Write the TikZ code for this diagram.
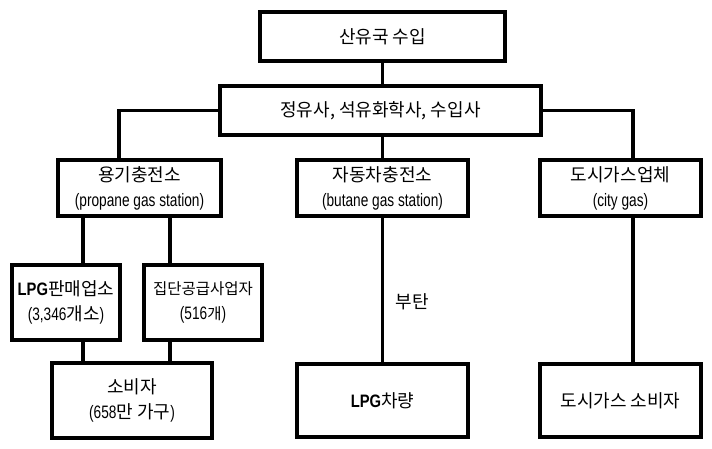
\documentclass[tikz,border=0pt]{standalone}
\usepackage{fontspec}
\setmainfont{Noto Sans CJK KR}
\newfontfamily\lat{Liberation Sans}[FakeStretch=0.76]
\newfontfamily\latb{Liberation Sans Bold}[FakeStretch=0.82]
\usetikzlibrary{positioning}

\begin{document}
\begin{tikzpicture}[x=1pt,y=-1pt]
\tikzstyle{box} = [draw, line width=3.5pt, align=center, inner sep=0pt, font=\fontsize{18}{25}\selectfont]
\tikzstyle{line} = [line width=3.5pt]
\useasboundingbox (0,0) rectangle (712,449);

%Import and the companies that take it in
 \node[box, minimum width=245pt, minimum height=49pt] (import) at (382.5,36.5) {산유국 수입};
 \node[box, minimum width=321pt, minimum height=49pt] (refine) at (380.5,110.5) {정유사, 석유화학사, 수입사};

%Three kinds of station:
 \node[box, minimum width=163pt, minimum height=56pt] (propane) at (139.5,188) {용기충전소\\{\lat (propane gas station)}};
 \node[box, minimum width=171pt, minimum height=56pt] (butane) at (382.5,188) {자동차충전소\\{\lat (butane gas station)}};
 \node[box, minimum width=161pt, minimum height=56pt] (citygas) at (620.5,188) {도시가스업체\\{\lat (city gas)}};

%Sellers below the propane station
 \node[box, minimum width=108pt, minimum height=75pt] (seller) at (66,302.5) {{\latb LPG}판매업소\\{\lat (3,346}개소{\lat )}};
 \node[box, minimum width=118pt, minimum height=75pt, font=\fontsize{15.5}{25}\selectfont] (supplier) at (203,302.5) {집단공급사업자\\{\lat\fontsize{18}{25}\selectfont (516}개{\lat\fontsize{18}{25}\selectfont )}};

%End users
 \node[box, minimum width=160pt, minimum height=75pt] (consumer) at (132,400.5) {소비자\\{\lat (658}만 가구{\lat )}};
 \node[box, minimum width=171pt, minimum height=73pt] (vehicle) at (382.5,400.5) {{\latb LPG}차량};
 \node[box, minimum width=161pt, minimum height=73pt] (cityuser) at (620.5,400.5) {도시가스 소비자};

%x positions of the branch lines
 \coordinate (xl) at (119,0);
 \coordinate (xr) at (633,0);
 \coordinate (xa) at (83,0);
 \coordinate (xb) at (170,0);

%Connecting the boxes:
 \draw[line] (import.south) -- (import.south |- refine.north);
 \draw[line] (refine.west) -| (propane.north -| xl);
 \draw[line] (refine.east) -| (citygas.north -| xr);
 \draw[line] (refine.south -| butane) -- (butane.north);
 \draw[line] (butane.south) -- (vehicle.north) node (gaslabel) [pos=0.58, right=8pt, font=\fontsize{18}{20}\selectfont] {부탄};
 \draw[line] (citygas.south -| xr) -- (cityuser.north -| xr);
 \draw[line] (propane.south -| xa) -- (seller.north -| xa);
 \draw[line] (propane.south -| xb) -- (supplier.north -| xb);
 \draw[line] (seller.south -| xa) -- (consumer.north -| xa);
 \draw[line] (supplier.south -| xb) -- (consumer.north -| xb);

\end{tikzpicture}
\end{document}
